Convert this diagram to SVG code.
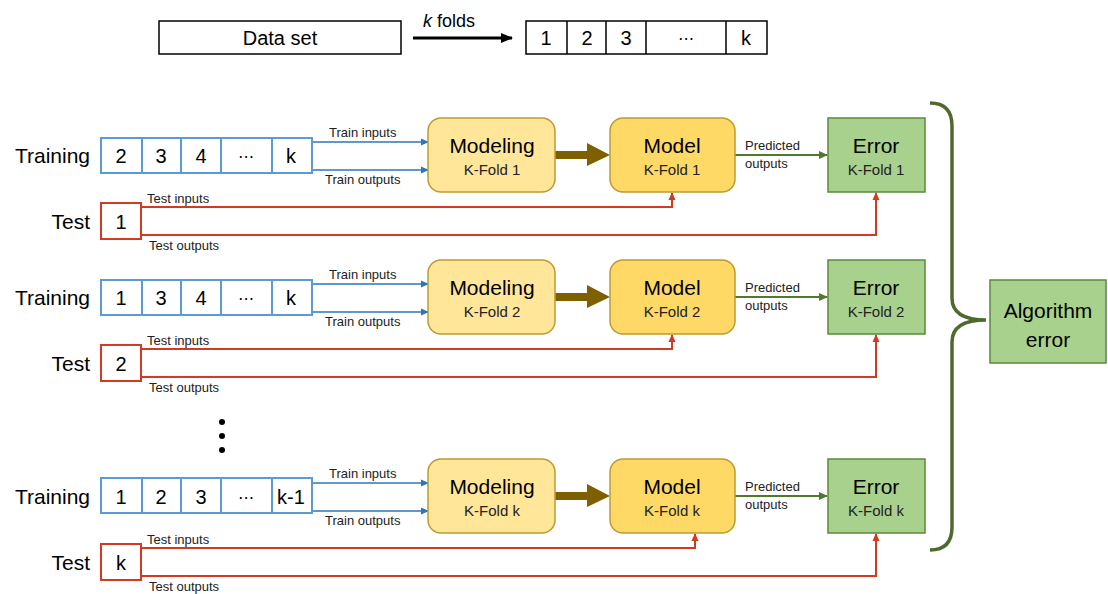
<svg xmlns="http://www.w3.org/2000/svg" width="1108" height="594" viewBox="0 0 1108 594">
<style>
text{font-family:"Liberation Sans",Arial,sans-serif;fill:#000}
.big{font-size:21px}
.num{font-size:20px;text-anchor:middle}
.ell{font-size:16px;text-anchor:middle;font-family:"DejaVu Sans",sans-serif}
.sm{font-size:13px;fill:#222}
.fold{font-size:15px;text-anchor:middle;fill:#222}
.ttl{font-size:21px;text-anchor:middle}
.blk{fill:#fff;stroke:#000;stroke-width:1.5}
.tr{fill:#fff;stroke:#5B9BD5;stroke-width:2}
.te{fill:#fff;stroke:#D33A22;stroke-width:2}
.mdg{fill:#FFE699;stroke:#BF9A30;stroke-width:1.5}
.mdl{fill:#FFD966;stroke:#BF9A30;stroke-width:1.5}
.err{fill:#A9D18E;stroke:#5B8A3A;stroke-width:1.5}
.ab{fill:none;stroke:#2E75B6;stroke-width:1.5}
.ar{fill:none;stroke:#D33A22;stroke-width:2}
.ag{fill:none;stroke:#4F7A2E;stroke-width:1.8}
</style>
<defs>
<marker id="mb" markerWidth="8" markerHeight="8" refX="7" refY="4" orient="auto" markerUnits="userSpaceOnUse"><path d="M0,0.5 L8,4 L0,7.5Z" fill="#2E75B6"/></marker>
<marker id="mr" markerWidth="8" markerHeight="8" refX="7" refY="4" orient="auto" markerUnits="userSpaceOnUse"><path d="M0,0.5 L8,4 L0,7.5Z" fill="#D33A22"/></marker>
<marker id="mg" markerWidth="9" markerHeight="9" refX="8" refY="4.5" orient="auto" markerUnits="userSpaceOnUse"><path d="M0,0.5 L9,4.5 L0,8.5Z" fill="#4F7A2E"/></marker>
<marker id="mk" markerWidth="12" markerHeight="12" refX="11" refY="6" orient="auto" markerUnits="userSpaceOnUse"><path d="M0,1 L12,6 L0,11Z" fill="#000"/></marker>
</defs>

<g id="dataset">
<rect class="blk" x="159" y="21" width="242" height="33"/>
<text class="num" x="280" y="45">Data set</text>
</g>
<g id="folds">
<rect class="blk" x="526" y="21" width="241" height="33"/>
<path d="M567,21V54M606,21V54M646,21V54M726,21V54" stroke="#000" stroke-width="1.5"/>
<text class="num" x="546" y="45">1</text>
<text class="num" x="587" y="45">2</text>
<text class="num" x="626" y="45">3</text>
<text class="ell" x="686" y="44">⋯</text>
<text class="num" x="746" y="45">k</text>
</g>

<g id="connectors">
<line x1="413" y1="38" x2="512" y2="38" stroke="#000" stroke-width="3" marker-end="url(#mk)"/>
<text x="423" y="27" style="font-size:18px"><tspan font-style="italic">k</tspan> folds</text>

<!-- row 1 -->
<g>
<line class="ab" x1="312" y1="142" x2="428" y2="142" marker-end="url(#mb)"/>
<line class="ab" x1="312" y1="170" x2="428" y2="170" marker-end="url(#mb)"/>
<text class="sm" x="329" y="137">Train inputs</text>
<text class="sm" x="325" y="184">Train outputs</text>
<polyline class="ar" points="141,207 672,207 672,193" marker-end="url(#mr)"/>
<polyline class="ar" points="141,235 876,235 876,193" marker-end="url(#mr)"/>
<text class="sm" x="147" y="203">Test inputs</text>
<text class="sm" x="149" y="250">Test outputs</text>
<path d="M555,151 H587 V143 L610,155 L587,166 V159 H555Z" fill="#7F6000"/>
<line class="ag" x1="735" y1="155" x2="827" y2="155" marker-end="url(#mg)"/>
<text class="sm" x="745" y="150">Predicted</text>
<text class="sm" x="745" y="168">outputs</text>
</g>
<!-- row 2 -->
<g transform="translate(0,142)">
<line class="ab" x1="312" y1="142" x2="428" y2="142" marker-end="url(#mb)"/>
<line class="ab" x1="312" y1="170" x2="428" y2="170" marker-end="url(#mb)"/>
<text class="sm" x="329" y="137">Train inputs</text>
<text class="sm" x="325" y="184">Train outputs</text>
<polyline class="ar" points="141,207 672,207 672,193" marker-end="url(#mr)"/>
<polyline class="ar" points="141,235 876,235 876,193" marker-end="url(#mr)"/>
<text class="sm" x="147" y="203">Test inputs</text>
<text class="sm" x="149" y="250">Test outputs</text>
<path d="M555,151 H587 V143 L610,155 L587,166 V159 H555Z" fill="#7F6000"/>
<line class="ag" x1="735" y1="155" x2="827" y2="155" marker-end="url(#mg)"/>
<text class="sm" x="745" y="150">Predicted</text>
<text class="sm" x="745" y="168">outputs</text>
</g>
<!-- row 3 -->
<g transform="translate(0,341)">
<line class="ab" x1="312" y1="142" x2="428" y2="142" marker-end="url(#mb)"/>
<line class="ab" x1="312" y1="170" x2="428" y2="170" marker-end="url(#mb)"/>
<text class="sm" x="329" y="137">Train inputs</text>
<text class="sm" x="325" y="184">Train outputs</text>
<polyline class="ar" points="141,207 695,207 695,193" marker-end="url(#mr)"/>
<polyline class="ar" points="141,235 876,235 876,193" marker-end="url(#mr)"/>
<text class="sm" x="147" y="203">Test inputs</text>
<text class="sm" x="149" y="250">Test outputs</text>
<path d="M555,151 H587 V143 L610,155 L587,166 V159 H555Z" fill="#7F6000"/>
<line class="ag" x1="735" y1="155" x2="827" y2="155" marker-end="url(#mg)"/>
<text class="sm" x="745" y="150">Predicted</text>
<text class="sm" x="745" y="168">outputs</text>
</g>
<path d="M930,103 Q952,103 952,126 L952,298 Q952,320 986,320 Q952,320 952,342 L952,527 Q952,550 930,550" fill="none" stroke="#4F6A2E" stroke-width="3.5"/>
</g>

<!-- Row 1 nodes -->
<g id="training1">
<text class="big" x="90" y="163" text-anchor="end">Training</text>
<rect class="tr" x="101" y="138" width="211" height="35"/>
<path d="M142,138V173M181,138V173M221,138V173M272,138V173" stroke="#5B9BD5" stroke-width="2"/>
<text class="num" x="121" y="163">2</text><text class="num" x="161" y="163">3</text><text class="num" x="201" y="163">4</text><text class="ell" x="246" y="162">⋯</text><text class="num" x="291" y="163">k</text>
</g>
<g id="test1">
<text class="big" x="90" y="229" text-anchor="end">Test</text>
<rect class="te" x="101" y="203" width="40" height="36"/>
<text class="num" x="121" y="229">1</text>
</g>
<g id="modeling1"><rect class="mdg" x="428" y="118" width="127" height="74" rx="13"/><text class="ttl" x="492" y="153">Modeling</text><text class="fold" x="492" y="175">K-Fold 1</text></g>
<g id="model1"><rect class="mdl" x="610" y="118" width="125" height="74" rx="13"/><text class="ttl" x="672" y="153">Model</text><text class="fold" x="672" y="175">K-Fold 1</text></g>
<g id="error1"><rect class="err" x="828" y="118" width="97" height="74"/><text class="ttl" x="876" y="153">Error</text><text class="fold" x="876" y="175">K-Fold 1</text></g>

<!-- Row 2 nodes -->
<g id="training2">
<text class="big" x="90" y="305" text-anchor="end">Training</text>
<rect class="tr" x="101" y="280" width="211" height="35"/>
<path d="M142,280V315M181,280V315M221,280V315M272,280V315" stroke="#5B9BD5" stroke-width="2"/>
<text class="num" x="121" y="305">1</text><text class="num" x="161" y="305">3</text><text class="num" x="201" y="305">4</text><text class="ell" x="246" y="304">⋯</text><text class="num" x="291" y="305">k</text>
</g>
<g id="test2">
<text class="big" x="90" y="371" text-anchor="end">Test</text>
<rect class="te" x="101" y="345" width="40" height="36"/>
<text class="num" x="121" y="371">2</text>
</g>
<g id="modeling2"><rect class="mdg" x="428" y="260" width="127" height="74" rx="13"/><text class="ttl" x="492" y="295">Modeling</text><text class="fold" x="492" y="317">K-Fold 2</text></g>
<g id="model2"><rect class="mdl" x="610" y="260" width="125" height="74" rx="13"/><text class="ttl" x="672" y="295">Model</text><text class="fold" x="672" y="317">K-Fold 2</text></g>
<g id="error2"><rect class="err" x="828" y="260" width="97" height="74"/><text class="ttl" x="876" y="295">Error</text><text class="fold" x="876" y="317">K-Fold 2</text></g>

<g id="dots" fill="#000"><circle cx="222" cy="422" r="3"/><circle cx="222" cy="436" r="3"/><circle cx="222" cy="450" r="3"/></g>

<!-- Row 3 nodes -->
<g id="training3">
<text class="big" x="90" y="504" text-anchor="end">Training</text>
<rect class="tr" x="101" y="478" width="211" height="35"/>
<path d="M142,478V513M181,478V513M221,478V513M272,478V513" stroke="#5B9BD5" stroke-width="2"/>
<text class="num" x="121" y="504">1</text><text class="num" x="161" y="504">2</text><text class="num" x="201" y="504">3</text><text class="ell" x="246" y="503">⋯</text><text class="num" x="291" y="504">k-1</text>
</g>
<g id="test3">
<text class="big" x="90" y="570" text-anchor="end">Test</text>
<rect class="te" x="101" y="544" width="40" height="36"/>
<text class="num" x="121" y="570">k</text>
</g>
<g id="modeling3"><rect class="mdg" x="428" y="459" width="127" height="74" rx="13"/><text class="ttl" x="492" y="494">Modeling</text><text class="fold" x="492" y="516">K-Fold k</text></g>
<g id="model3"><rect class="mdl" x="610" y="459" width="125" height="74" rx="13"/><text class="ttl" x="672" y="494">Model</text><text class="fold" x="672" y="516">K-Fold k</text></g>
<g id="error3"><rect class="err" x="828" y="459" width="97" height="74"/><text class="ttl" x="876" y="494">Error</text><text class="fold" x="876" y="516">K-Fold k</text></g>

<g id="algerror"><rect class="err" x="990" y="280" width="116" height="83"/><text class="ttl" x="1048" y="318">Algorithm</text><text class="ttl" x="1048" y="347">error</text></g>
</svg>
